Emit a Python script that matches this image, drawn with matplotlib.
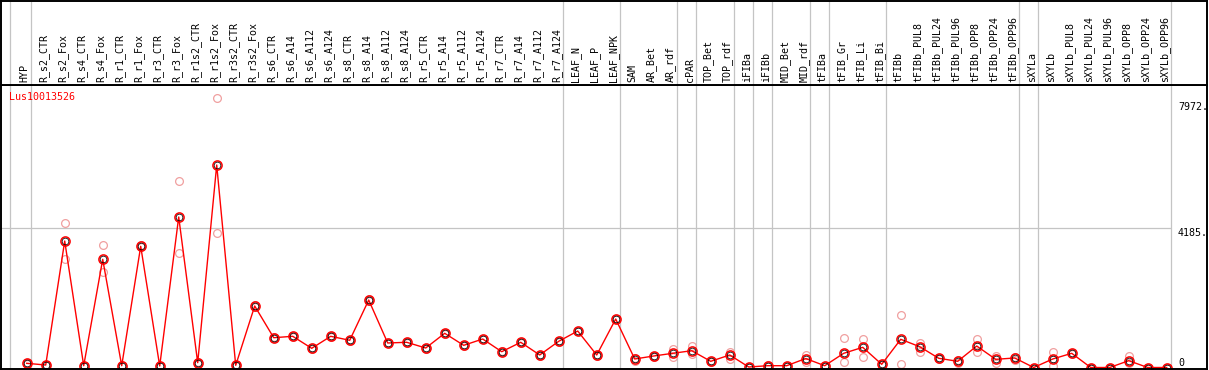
import matplotlib
matplotlib.use('Agg')
import matplotlib.pyplot as plt
import matplotlib.transforms as mtransforms

plt.rcParams['font.family'] = ['DejaVu Sans Mono']
plt.rcParams['font.size'] = 7.2

labels = ['HYP', 'R_s2_CTR', 'R_s2_Fox', 'R_s4_CTR', 'R_s4_Fox', 'R_r1_CTR', 'R_r1_Fox',
          'R_r3_CTR', 'R_r3_Fox', 'R_r1s2_CTR', 'R_r1s2_Fox', 'R_r3s2_CTR', 'R_r3s2_Fox',
          'R_s6_CTR', 'R_s6_A14', 'R_s6_A112', 'R_s6_A124', 'R_s8_CTR', 'R_s8_A14',
          'R_s8_A112', 'R_s8_A124', 'R_r5_CTR', 'R_r5_A14', 'R_r5_A112', 'R_r5_A124',
          'R_r7_CTR', 'R_r7_A14', 'R_r7_A112', 'R_r7_A124', 'LEAF_N', 'LEAF_P', 'LEAF_NPK',
          'SAM', 'AR_Bet', 'AR_rdf', 'cPAR', 'TOP_Bet', 'TOP_rdf', 'iFIBa', 'iFIBb',
          'MID_Bet', 'MID_rdf', 'tFIBa', 'tFIB_Gr', 'tFIB_Li', 'tFIB_Bi', 'tFIBb',
          'tFIBb_PUL8', 'tFIBb_PUL24', 'tFIBb_PUL96', 'tFIBb_OPP8', 'tFIBb_OPP24',
          'tFIBb_OPP96', 'sXYLa', 'sXYLb', 'sXYLb_PUL8', 'sXYLb_PUL24', 'sXYLb_PUL96',
          'sXYLb_OPP8', 'sXYLb_OPP24', 'sXYLb_OPP96']

means = [126, 75, 3803, 54, 3253, 54, 3644, 45, 4525, 144, 6088, 66, 1849, 896, 938, 577,
         938, 818, 2029, 737, 758, 586, 1028, 667, 857, 475, 758, 376, 788, 1097, 376, 1458,
         256, 346, 427, 505, 186, 376, 15, 54, 54, 270, 54, 427, 607, 96, 848, 626, 277, 186,
         646, 246, 286, 0, 256, 427, 0, 0, 205, 0, 0]

rep_a = [150, 80, 4345, 60, 3674, 70, 3680, 50, 5598, 180, 8094, 80, 1870, 910, 950, 590,
         950, 830, 2050, 750, 770, 600, 1040, 680, 870, 490, 770, 390, 800, 1110, 390, 1470,
         300, 360, 547, 646, 200, 475, 20, 70, 60, 367, 60, 887, 848, 110, 1569, 746, 290, 230,
         857, 346, 330, 0, 457, 440, 0, 0, 355, 0, 0]

rep_b = [100, 70, 3262, 48, 2862, 40, 3610, 40, 3434, 110, 4035, 52, 1830, 880, 925, 565,
         925, 805, 2010, 725, 745, 570, 1015, 655, 845, 460, 745, 360, 775, 1085, 360, 1445,
         210, 330, 325, 406, 170, 265, 10, 40, 48, 165, 48, 175, 307, 82, 96, 457, 265, 135,
         457, 135, 240, 0, 36, 415, 0, 0, 126, 0, 0]

# columns after which a group separator is drawn
group_ends = [0, 28, 31, 34, 35, 37, 38, 39, 41, 42, 45, 52, 53, 60]

gene = 'Lus10013526'
ytick_vals = [7972, 4185, 0]
ytick_text = ['7972.', '4185.', '0']

W, H = 1209, 370
fig = plt.figure(figsize=(W / 100, H / 100), dpi=100)
ax = fig.add_axes([1 / W, (H - 369) / H, 1206 / W, 284 / H])
hd = fig.add_axes([1 / W, (H - 85) / H, 1206 / W, 84.5 / H], sharex=ax)

x = list(range(len(labels)))
xlo, xhi = -1.353, 62.12
ax.set_xlim(xlo, xhi)
ax.set_ylim(-45, 8494)
hd.set_ylim(0, 1)

grey = '#c4c4c4'
seps = [-0.88] + [g + 0.21 for g in group_ends]
for s in seps:
    ax.axvline(s, color=grey, lw=0.9, zorder=1)
    hd.axvline(s, color=grey, lw=0.9, zorder=1)
ax.hlines(ytick_vals[1], xlo, group_ends[-1] + 0.21, color=grey, lw=0.9, zorder=1)

pale = '#f0a0a0'
ax.plot(x, rep_a, 'o', ms=5.6, mfc='none', mec=pale, mew=0.9, zorder=2)
ax.plot(x, rep_b, 'o', ms=5.6, mfc='none', mec=pale, mew=0.9, zorder=2)
ax.plot(x, means, '-', color='red', lw=1.0, zorder=3)
ax.plot(x, means, 'o', ms=6.6, mfc='none', mec='red', mew=1.1, zorder=4)
ax.plot(x, means, 'o', ms=4.8, mfc='none', mec='black', mew=0.55, zorder=5)

for a in (ax, hd):
    a.set_xticks([])
    a.set_yticks([])
    for sp in a.spines.values():
        sp.set_linewidth(1.4)
        sp.set_color('black')
        sp.set_zorder(6)

htrans = mtransforms.blended_transform_factory(hd.transData, hd.transAxes)
for i, lab in enumerate(labels):
    hd.text(i - 0.1, 0.03, lab, rotation=90, ha='center', va='bottom',
            transform=htrans, color='black')

ax.text(8.3 / 1206, (369 - 92) / 284, gene, color='red', ha='left', va='top',
        transform=ax.transAxes)

ttrans = mtransforms.blended_transform_factory(ax.transAxes, ax.transData)
for v, t in zip(ytick_vals, ytick_text):
    va = 'bottom' if v == 0 else 'top'
    ax.text(1177 / 1206, v, t, ha='left', va=va, transform=ttrans, color='black')

fig.savefig('out.png', dpi=100)
